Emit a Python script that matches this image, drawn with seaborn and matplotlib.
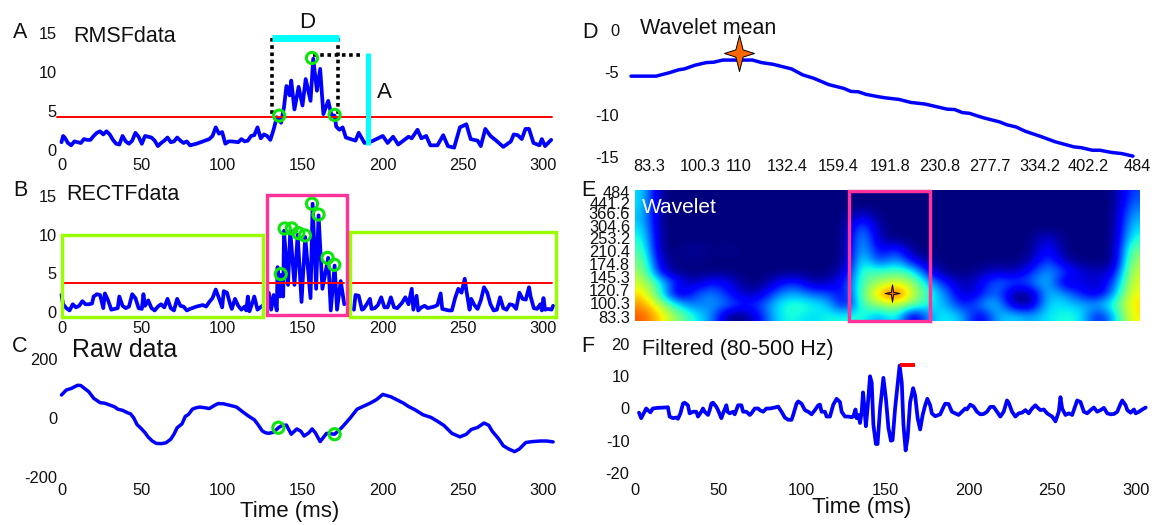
import numpy as np
import matplotlib
matplotlib.use("Agg")
import matplotlib.pyplot as plt
from matplotlib.path import Path
from matplotlib.patches import Rectangle
import seaborn as sns

# ---------- data ----------
rmsf_t = [0,1,2,4,6,8,10,12,14,16,18,20,22,24,26,28,30,32,34,36,38,40,42,44,46,48,50,52,54,56,58,60,62,64,66,68,70,72,74,76,78,80,84,88,92,94,96,98,100,102,104,106,110,112,114,116,118,120,122,124,126,128,130,132,134,135,136.7,138.5,140,141,142,143,145,147.6,150,152,155,156.7,159,161,163,166,168,170,171,173,175,177,183,185,188.6,193,200,203,206.4,209.6,216,218,221.6,224,227,229.6,234,237.6,240.5,244.4,248,252,254.7,259,261,263.8,267,270.6,275,279.7,281.5,284,286.5,288.8,291,293.8,297.5,299,301,304.8]
rmsf_v = [1.0,1.8,1.6,0.9,0.6,1.1,1.0,0.9,1.4,1.3,1.3,1.8,2.2,2.4,2.0,2.4,2.0,1.3,0.8,0.7,1.8,1.1,0.8,1.2,2.2,1.7,0.8,1.8,1.7,1.6,1.2,0.5,0.9,1.2,1.6,1.0,1.1,1.6,1.2,0.9,1.1,0.6,0.8,1.1,1.4,1.8,2.9,2.1,2.3,0.8,1.1,1.1,1.0,1.4,1.1,1.2,1.8,1.9,2.9,1.5,2.0,1.8,1.3,2.6,4.2,3.9,3.5,5.5,8.2,8.0,7.0,8.9,5.2,8.1,5.7,9.1,6.3,11.7,7.6,10.4,4.6,6.3,4.5,4.4,3.0,2.6,2.9,1.6,1.2,2.2,0.9,1.1,1.8,0.9,1.7,0.7,1.7,1.5,2.6,1.5,1.8,0.6,0.6,1.9,0.5,0.3,2.9,3.3,1.4,1.2,0.5,2.7,1.8,1.2,0.4,1.1,2.0,1.9,1.4,2.7,2.7,0.9,0.6,1.4,0.5,1.3]
rmsf_ring_t = [135.5, 155.9, 170]
rmsf_ring_v = [4.4, 11.8, 4.5]
rmsf_thr = 4.25

rect_t = [0,0.5,1,3,5,7,9,11,13,15,17,19,20,22,24,26,27,29,31,33,35,36,38,40,42,44,46,48,50,51,52,54,56,58,60,62,64,66,68,70,72,74,76,78,80,84,88,90,92,94,96,98,100,101,103,105,106,108,110,112,114,115,116,117,119,120,122,125,129,130.5,132,134,134.5,136,136.7,138,138.5,141,142.4,145,147,149.4,151.7,155,156.3,158.5,160,162.4,166,167.6,170,171.5,173.8,176,182,183,185,187,188,190,192,193,195,197,199,201,203,205,207,209,212,214,216,218,219,221,222,224,226,228,230,232,234,236,237,239,241,243,245,247,249,251,252,254,255,257,259,261,263,265,267,269,271,273,275,277,279,281,283,285,287,289,291,292,294,296,298,299,300,301,303,305,306]
rect_v = [2.2,1.6,1,.5,.2,1,.6,.8,1.4,1,1,1.1,2,2.3,2.2,.5,2.4,1.5,.3,.4,.5,2,.8,.5,.7,2.3,1.8,.5,.4,2.3,.8,1.5,.5,.2,.7,1,.6,1.7,.5,.2,1.7,.8,.7,.2,.4,.7,.9,.7,1.3,1.8,2.9,1.8,.6,2.7,2.5,1,.4,1.7,.8,.3,.7,.2,2,.1,1.3,2,.3,.8,2.5,.3,2.2,.2,5.8,2,4.8,2,10.5,3.5,10.5,3.5,10,1.3,9.7,1.8,14,3,12.5,3,7,.2,6,.3,4,1,.3,2.2,2.1,.3,.4,1,1.7,.4,.5,.9,1.9,.6,.6,1.9,.6,.5,1.2,1.9,1,3,.3,2.1,.2,.6,.8,.5,.6,.7,.9,2.4,.4,.3,.2,.2,1.8,3,2.5,4.3,2.8,.3,1.7,.9,.4,1.5,3.2,2.5,1,.2,.3,1.9,.5,.3,1,.9,.4,2.5,1.7,1.6,3.2,2,.5,.4,1,.2,1.8,.3,.4,.3,.8]
rect_ring_t = [136.5,138.9,143.3,147.4,151.5,155.9,160,165.6,169.8]
rect_ring_v = [4.9,10.8,10.8,10.2,9.9,14,12.6,7,6.1]
rect_thr = 3.8

raw_t = [0,3,6,10,12,17,20,24,27,30,33,35,38,41,43,45,47,50,52,54,56.5,59,62,65,68,70,72,75,77,79,81.5,84,86,89,92,95,97.5,101,104,107,109,113,116,120,122,125,127,129,132,135,137,140,143,146.5,149,151,154,156,158,161,165,170,174,177,180,184,188,192,196,200,205,209,213,216,220,225,230,234,238,243,248,252,255,259,263,266,268,272,275,278,282,285,289,293,298,302,306]
raw_v = [78,95,100,111,110,89,67,52,50,44,38,30,26,18,14,0,-22,-38,-50,-65,-78,-86,-87,-84,-72,-55,-33,-20,5,12,30,35,37,35,32,42,49,48,44,40,37,20,8,-6,-20,-44,-50,-52,-48,-33,-26,-24,-55,-37,-45,-61,-50,-37,-50,-80,-52,-55,-35,-17,2,30,40,50,62,80,72,61,50,39,28,11,2,-11,-25,-52,-64,-55,-39,-32,-17,-25,-44,-70,-94,-104,-114,-105,-83,-80,-78,-78,-81]
raw_ring_t = [135, 170]
raw_ring_v = [-33, -55]

mean_i = [0,5,7.6,9.5,10.6,12.8,15,16.5,18.3,24.2,26,28.3,32,34.2,36.4,39.4,42.4,43.8,45.3,46.8,49,50.5,53.4,55.7,58.6,63,64.5,66,67.5,69,70.4,73.4,74.9,76.7,78.5,81.5,84.5,88.2,89.7,91.9,93.4,95.6,97.8,100]
mean_v = [-5.45,-5.45,-5.05,-4.7,-4.6,-4.15,-3.85,-3.8,-3.55,-3.55,-3.85,-4.05,-4.6,-5.3,-5.7,-6.45,-6.9,-7.25,-7.3,-7.6,-7.85,-8.0,-8.2,-8.55,-8.75,-9.35,-9.4,-9.75,-9.85,-10.15,-10.4,-10.85,-11.2,-11.45,-11.95,-12.55,-13.2,-13.8,-13.9,-14.2,-14.2,-14.45,-14.6,-14.9]
freq_labels = ["83.3","100.3","110","132.4","159.4","191.8","230.8","277.7","334.2","402.2","484"]
freq_pos = [3.6,13.8,21.5,31.1,41.3,51.6,61.4,71.5,81.5,91.1,100.8]
mean_star = (21.6, -2.7)

wave_rows = [
 [.35,0,0,0,0,0,0,0,0,0,0,0,0,0,0,0,0,0,0,0,0,0,0,0,0,0,0,0,0,.2],
 [.35,0,0,0,0,0,0,0,0,0,0,0,0,0,0,0,0,0,0,0,0,0,0,0,0,0,0,0,0,.25],
 [.32,0,0,0,0,0,0,0,0,0,0,0,0,.12,0,0,0,0,0,0,0,0,0,0,0,0,0,0,0,.3],
 [.36,0,0,0,0,0,0,0,0,0,0,0,0,.28,.02,0,0,0,0,0,0,0,0,0,0,0,0,0,0,.35],
 [.4,0,0,0,0,0,0,0,0,0,0,0,0,.34,.03,0,0,0,0,0,0,0,0,0,.1,0,0,0,0,.4],
 [.45,0,0,.04,0,.02,0,0,0,0,0,0,0,.36,.08,.2,.0,0,0,0,0,0,0,0,.16,0,0,0,0,.5],
 [.5,.05,0,.01,0,0,0,0,0,0,0,0,0,.42,.15,.32,.1,.02,0,0,0,0,0,.03,.22,.04,0,0,0,.55],
 [.55,.1,0,0,0,0,0,0,0,0,0,0,.06,.45,.42,.46,.4,.1,0,0,.02,.08,.03,.15,.3,.2,.08,.05,.08,.6],
 [.6,.38,.15,.03,.14,.12,0,0,.1,.18,.03,.05,.14,.45,.55,.62,.55,.3,.14,.03,.1,.25,.2,.22,.35,.03,.1,.05,.2,.62],
 [.68,.4,.0,.18,.28,.14,.05,.06,.25,.3,.22,.2,.1,.48,.72,.88,.6,.4,.25,.03,.12,.25,.0,.0,.33,.28,.14,.05,.28,.65],
 [.75,.58,.36,.22,.28,.25,.15,.2,.36,.42,.38,.33,.05,.45,.55,.6,.5,.36,.3,.12,.26,.36,.02,.0,.35,.35,.3,.3,.42,.68],
 [.82,.68,.52,.38,.28,.0,.0,.14,.36,.38,.33,.38,.38,.4,.25,.42,.0,.3,.38,.3,.05,.3,.35,.28,.36,.38,.38,.1,.32,.66],
]
wave_labels = ["484","441.2","366.6","304.6","253.2","210.4","174.8","145.3","120.7","100.3","83.3"]
wave_label_px = [192,203,213,226,238,251,264,277,290,303,317]

filt_t = [2.7,4,5.5,7,8,9.5,11,14,18,20,21,23,25,26,27.5,29,30,32,33,35,37,38,40,41,42,44,45,46,47,49,50,52,53,55,55.7,57,59,60,62,64,65,67,69,70,72,74,75,77,79,81,84,86,88,90,92,94,95,97,98,100,102,104,106,108,110,111,112,114,115,117,119,121,123,124,126,128,130,131,132.3,133,134,135,136,136.8,137.5,138.5,139.5,141,142,143,144.5,145.5,147,149,150.5,152,153.5,154.5,156,158.7,160,161,162.3,163.5,165,166.8,168,169.5,171,172.5,174,175.3,177,178,180,183,185,186,188,190,192,194,196,198,199,201,203,205,207,209,211,213,215,217,219,221,223,224,226,228,230,232,234,236,238,240,241,243,245,247,250,252,254,255,256,258,260,262,263,265,267,269,271,273,275,277,279,281,283,285,287,289,291,292,294,295,297,299,300,302,304,306]
filt_v = [-1.3,-3,-1.5,0,-.5,-1.2,0,.2,.3,.4,-2.5,-3,-2.8,-3.2,-1.5,1.5,1.8,1,-1.5,-1,-1,-2.5,-1,0,-1,-2,-.5,1.5,1.8,.5,-.5,-3,-1.5,1,-1,-1.5,-1,-1.8,1,1,-1,-1,-2,-1.5,0,0,-.5,-1,0,0,.3,.6,-1,-2.8,-3.5,-3.5,-2,1.5,2.2,1.5,-.5,-1,-1.8,-.5,1,1.2,-1,-1,-2.5,-2.5,1.2,3,2,-1,-2.5,-2.5,-2.7,-2.5,-.3,-3,-2,-4.5,-1,5,1,-5.5,0,10,8,-5,-11,-11,0,9.5,3,-6,-10,-9.8,0,13.3,8,-5,-13,-9,2,6.3,4,-3,-6.5,-2,1,3,1,-1.5,-2.4,-1.8,.5,1.5,1.4,-1,-1.5,-2,-1,0,-.3,1.2,.6,-1,-1.8,-1.7,-1,.5,.5,-1,-2.5,-1,2.5,1.8,-1,-2.5,-1.5,-1.3,-.5,-1.5,0,1,.4,-.5,-.3,-1.5,-2.5,-4,-1,3.5,0,-2,-1.5,-2,-.5,2.5,2,-1,-1.5,-.5,.3,-1,-.5,.2,-1.5,-1.8,-1.7,-1,1.5,2.5,1,-.5,-1.3,-.3,-1.5,-1,-.3,.3]
filt_bar = (159, 168, 13.6)

time_ticks = [0,50,100,150,200,250,300]

# ---------- setup ----------
sns.set_theme(style="white")
plt.rcParams["font.family"] = ["Liberation Sans", "DejaVu Sans"]
plt.rcParams["axes.unicode_minus"] = False
W, H = 1166, 525
fig = plt.figure(figsize=(W/100, H/100), dpi=100)
BLUE, RED, CYAN, LIME = "#0000FF", "#FF0000", "#00FFFF", "#0CE60C"
PINK, GREEN_BOX, ORANGE = "#FF3399", "#99FF00", "#FF6600"
TICK = 11.8
LEFT, RIGHT = 61.5, 551.5

def px_axes(l, t, r, b):
    a = fig.add_axes([l/W, 1-b/H, (r-l)/W, (b-t)/H])
    a.patch.set_alpha(0)
    sns.despine(ax=a, left=True, bottom=True, top=True, right=True)
    return a

def ftext(x, y, s, size=15.5, **kw):
    kw.setdefault("va", "center")
    kw.setdefault("color", "#111111")
    fig.text(x/W, 1-y/H, s, fontsize=size, **kw)

def line(ax, x, y, lw=2.7, color=BLUE, **kw):
    sns.lineplot(x=np.asarray(x, float), y=np.asarray(y, float), ax=ax, color=color, lw=lw,
                 estimator=None, sort=False, errorbar=None, clip_on=False,
                 solid_joinstyle="round", **kw)

def rings(ax, x, y):
    ax.scatter(x, y, s=65, facecolors="none", edgecolors=LIME, linewidths=2.2, zorder=6, clip_on=False)

def finish(ax, xpad, ypad):
    ax.tick_params(axis="both", length=0, labelsize=TICK, labelcolor="#111111")
    ax.tick_params(axis="x", pad=xpad)
    ax.tick_params(axis="y", pad=ypad)
    ax.set_xlabel(""); ax.set_ylabel("")

star_path = Path([(0,1),(.2,.2),(.83,0),(.2,-.2),(0,-1),(-.2,-.2),(-.83,0),(-.2,.2),(0,1)], closed=True)
thin_star = Path([(0,1),(.13,.13),(.85,0),(.13,-.13),(0,-1),(-.13,-.13),(-.85,0),(-.13,.13),(0,1)], closed=True)

# ---------- A ----------
a = px_axes(LEFT, 33, RIGHT, 150)
a.set_xlim(0, 305); a.set_ylim(0, 15)
line(a, rmsf_t, rmsf_v)
line(a, [-3, 305], [rmsf_thr]*2, lw=1.4, color=RED, zorder=4)
rings(a, rmsf_ring_t, rmsf_ring_v)
dot = dict(color="black", lw=2.6, ls=(0, (1, 1)), clip_on=False, zorder=5)
a.plot([131, 131], [14.4, 4.25], **dot)
a.plot([172.1, 172.1], [14.4, 4.25], **dot)
a.plot([156.5, 187], [12.2, 12.2], **dot)
a.plot([131, 172.7], [14.4, 14.4], color=CYAN, lw=5, solid_capstyle="butt", clip_on=False, zorder=6)
a.plot([190.8, 190.8], [12.4, 0.7], color=CYAN, lw=3.6, solid_capstyle="butt", clip_on=False, zorder=6)
a.set_xticks(time_ticks); a.set_yticks([0, 5, 10, 15])
finish(a, 5.5, 3.6)
ftext(73, 36, "RMSFdata")
ftext(307, 22, "D", ha="center", size=16)
ftext(384, 93, "A", ha="center", size=16)
ftext(20, 33, "A", ha="center")

# ---------- B ----------
b = px_axes(LEFT, 196, RIGHT, 312)
b.set_xlim(0, 305); b.set_ylim(0, 15)
rt, rv = np.array(rect_t), np.array(rect_v)
for lo, hi in [(0, 126), (128.5, 177), (180, 307)]:
    m = (rt >= lo) & (rt <= hi)
    line(b, rt[m], rv[m])
    line(b, [lo if lo else 0, min(hi, 306)-1], [rect_thr]*2, lw=1.4, color=RED, zorder=4)
rings(b, rect_ring_t, rect_ring_v)
for x0, x1, y0, y1, c in [(0.3, 125.4, -.6, 10, GREEN_BOX), (179.3, 307.8, -.65, 10.4, GREEN_BOX), (128.2, 177.7, -.4, 15.1, PINK)]:
    b.add_patch(Rectangle((x0, y0), x1-x0, y1-y0, fill=False, ec=c, lw=2.45, clip_on=False, zorder=7, joinstyle="miter"))
b.set_xticks(time_ticks); b.set_yticks([0, 5, 10, 15])
finish(b, 6.5, 3.6)
ftext(66, 194, "RECTFdata")
ftext(20, 190, "B", ha="center")

# ---------- C ----------
c = px_axes(LEFT, 359, RIGHT, 477)
c.set_xlim(0, 305); c.set_ylim(-200, 200)
line(c, raw_t, raw_v, lw=2.5)
rings(c, raw_ring_t, raw_ring_v)
c.set_xticks(time_ticks); c.set_yticks([-200, 0, 200])
finish(c, 4.5, 3)
ftext(72, 350, "Raw data", size=18)
ftext(20, 347, "C", ha="center")
ftext(290, 512, "Time (ms)", ha="center", size=16)

# ---------- D ----------
d = px_axes(631, 30, 1137, 157)
d.set_xlim(0, 100); d.set_ylim(-15, 0)
line(d, mean_i, mean_v, lw=2.5)
d.plot([mean_star[0]], [mean_star[1]], marker=star_path, ms=26, mfc=ORANGE, mec="black", mew=.7, clip_on=False, zorder=6)
d.set_xticks(freq_pos); d.set_xticklabels(freq_labels); d.set_yticks([0, -5, -10, -15])
finish(d, 1.5, 8.6)
ftext(640, 28, "Wavelet mean")
ftext(590, 32, "D", ha="center")

# ---------- E ----------
e = px_axes(635, 190, 1140, 321)
grid = np.array(wave_rows)
e.imshow(grid, cmap="jet", vmin=0, vmax=1, aspect="auto", interpolation="bicubic",
         interpolation_stage="data", extent=(0, grid.shape[1], grid.shape[0], 0))
e.set_xticks([])
e.set_yticks([(p-190)/131*grid.shape[0] for p in wave_label_px]); e.set_yticklabels(wave_labels)
finish(e, 1, 3.5)
e.add_patch(Rectangle((12.7, 0.1), 4.8, 11.9, fill=False, ec=PINK, lw=2.45, clip_on=False, zorder=5, joinstyle="miter"))
e.plot([15.27], [9.43], marker=thin_star, ms=12.5, mfc=ORANGE, mec="black", mew=.7, zorder=6)
ftext(642, 207, "Wavelet", color="white", size=15)
ftext(588, 190, "E", ha="center")

# ---------- F ----------
f = px_axes(634.5, 344, 1144, 473)
f.set_xlim(0, 305); f.set_ylim(-20, 20)
line(f, filt_t, filt_v)
f.plot(filt_bar[:2], [filt_bar[2]]*2, color=RED, lw=2.8, solid_capstyle="butt", clip_on=False, zorder=6)
f.set_xticks(time_ticks); f.set_yticks([-20, -10, 0, 10, 20])
finish(f, 7, 3.6)
ftext(642, 349, "Filtered (80-500 Hz)", size=15.5)
ftext(588, 347, "F", ha="center")
ftext(862, 507, "Time (ms)", ha="center", size=16)

fig.savefig("out.png", dpi=100)
